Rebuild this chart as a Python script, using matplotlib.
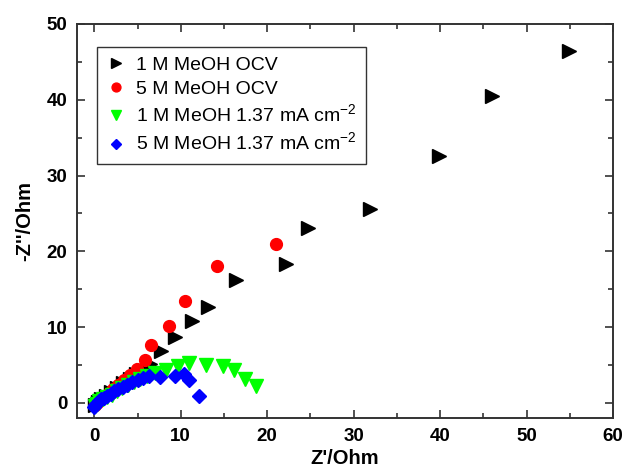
import numpy as np
import matplotlib
matplotlib.use('Agg')
import matplotlib.pyplot as plt

plt.rcParams['font.family'] = ['Liberation Sans', 'DejaVu Sans']
plt.rcParams['font.weight'] = 'bold'
plt.rcParams['mathtext.fontset'] = 'custom'
plt.rcParams['mathtext.rm'] = 'Liberation Sans:normal'

# 1 M MeOH at open circuit voltage
x_1m_ocv = [0.1, 0.4, 0.8, 1.3, 1.9, 2.6, 3.3, 4.1, 4.8, 5.6, 6.4, 7.7, 9.3, 11.3, 13.2, 16.4, 22.2, 24.7, 31.9, 39.9, 46.0, 54.9]
y_1m_ocv = [-0.3, 0.1, 0.5, 0.9, 1.4, 2.0, 2.6, 3.2, 3.8, 4.4, 5.1, 6.9, 8.65, 10.8, 12.7, 16.2, 18.3, 23.1, 25.6, 32.6, 40.5, 46.4]

# 5 M MeOH at open circuit voltage
x_5m_ocv = [0.1, 0.4, 0.8, 1.2, 1.7, 2.2, 2.8, 3.4, 4.1, 4.9, 5.9, 6.6, 8.6, 10.5, 14.2, 21.0]
y_5m_ocv = [-0.3, 0.1, 0.5, 0.9, 1.3, 1.8, 2.4, 3.0, 3.7, 4.45, 5.65, 7.7, 10.2, 13.4, 18.0, 20.9]

# 1 M MeOH at 1.37 mA cm-2
x_1m_cur = [0.1, 0.3, 0.6, 1.0, 1.5, 2.0, 2.6, 3.2, 3.9, 4.6, 5.3, 6.1, 7.0, 8.3, 9.7, 10.9, 12.9, 14.9, 16.2, 17.4, 18.7]
y_1m_cur = [-0.4, -0.1, 0.2, 0.5, 0.8, 1.1, 1.5, 1.9, 2.3, 2.7, 3.1, 3.5, 3.9, 4.3, 4.8, 5.2, 5.0, 4.8, 4.3, 3.2, 2.25]

# 5 M MeOH at 1.37 mA cm-2
x_5m_cur = [0.0, 0.1, 0.3, 0.5, 0.8, 1.1, 1.5, 1.9, 2.3, 2.8, 3.3, 3.8, 4.4, 5.0, 5.6, 6.3, 7.6, 9.3, 10.4, 10.9, 12.1]
y_5m_cur = [-0.6, -0.3, 0.0, 0.3, 0.5, 0.7, 0.9, 1.2, 1.5, 1.8, 2.1, 2.4, 2.7, 3.0, 3.3, 3.6, 3.35, 3.6, 3.8, 3.0, 0.93]

labels = ['1 M MeOH OCV', '5 M MeOH OCV',
          '1 M MeOH 1.37 mA cm$^{-2}$', '5 M MeOH 1.37 mA cm$^{-2}$']

fig = plt.figure(figsize=(6.24, 4.72), dpi=100)
ax = fig.add_axes([77/624, 1-418/472, 536/624, 394/472])

ax.plot(x_1m_ocv, y_1m_ocv, '>', color='black', ms=9.5, mec='black', label=labels[0])
ax.plot(x_5m_ocv, y_5m_ocv, 'o', color='#ff0000', ms=8.5, mec='#ff0000', label=labels[1])
ax.plot(x_1m_cur, y_1m_cur, 'v', color='#00ff00', ms=9.5, mec='#00ff00', label=labels[2])
ax.plot(x_5m_cur, y_5m_cur, 'D', color='#0000ff', ms=7, mec='#0000ff', label=labels[3])

ax.set_xlim(-2, 60)
ax.set_ylim(-2, 50)
ax.set_xticks(np.arange(0, 61, 10))
ax.set_yticks(np.arange(0, 51, 10))
ax.set_xticks(np.arange(0, 61, 5), minor=True)
ax.set_yticks(np.arange(0, 51, 5), minor=True)
ax.tick_params(which='both', direction='in', top=True, right=True, width=1.2, colors='#333333')
ax.tick_params(which='major', length=6, labelcolor='black', labelsize=13.5, pad=7)
ax.tick_params(which='minor', length=3.5)
for sp in ax.spines.values():
    sp.set_linewidth(1.4)
    sp.set_color('#333333')

ax.set_xlabel("Z'/Ohm", fontsize=14.5, fontweight='bold', labelpad=3)
ax.set_ylabel("-Z''/Ohm", fontsize=14.5, fontweight='bold', labelpad=9)

leg = ax.legend(loc='upper left', bbox_to_anchor=(0.037, 0.942), borderaxespad=0,
                prop={'size': 14, 'weight': 'normal'}, fancybox=False, framealpha=1,
                edgecolor='#333333', handletextpad=0.5, handlelength=1.0,
                labelspacing=0.3, borderpad=0.5, markerscale=0.75)
leg.get_frame().set_linewidth(1.0)

fig.savefig('out.png', dpi=100)
